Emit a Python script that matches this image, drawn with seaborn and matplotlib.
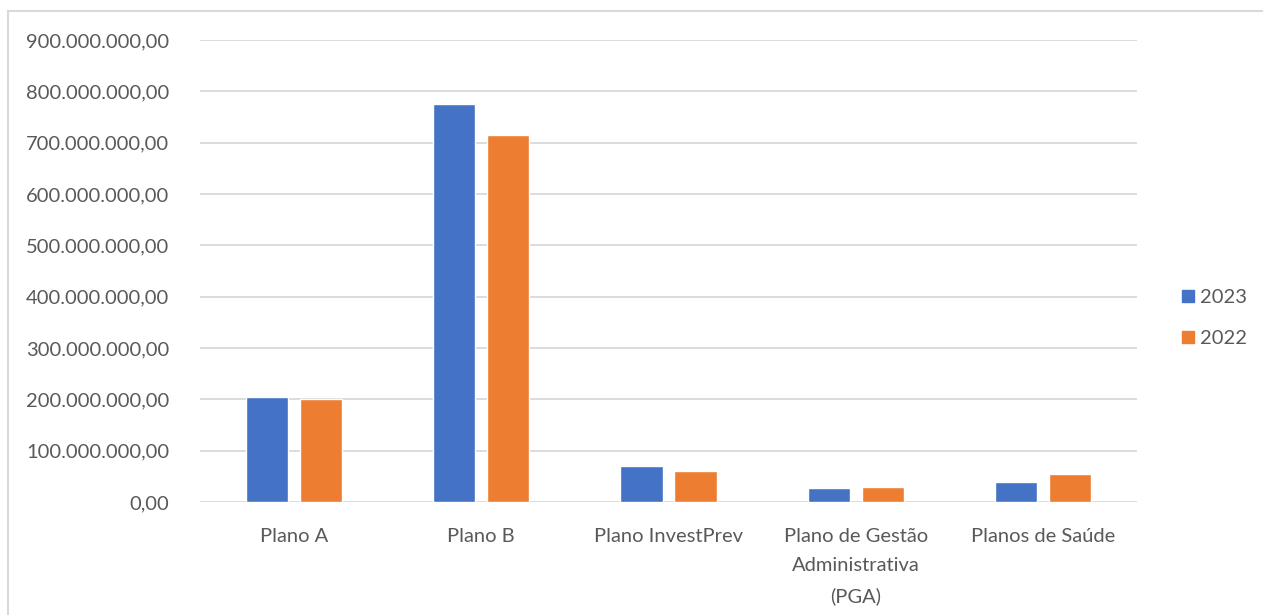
import numpy as np
import pandas as pd
import matplotlib
matplotlib.use('Agg')
import matplotlib.pyplot as plt
import seaborn as sns
from matplotlib.lines import Line2D

categories = ['Plano A', 'Plano B', 'Plano InvestPrev',
              'Plano de Gestão\nAdministrativa\n(PGA)', 'Planos de Saúde']
years = ['2023', '2022']
values_2023 = [204e6, 775e6, 70e6, 27e6, 38e6]
values_2022 = [200e6, 715e6, 60e6, 30e6, 55e6]
yticks = np.arange(0, 900e6 + 1, 100e6)
colors = ['#4472C4', '#ED7D31']

df = pd.DataFrame({
    'Plano': categories * 2,
    'Ano': ['2023'] * len(categories) + ['2022'] * len(categories),
    'Valor': values_2023 + values_2022,
})

sns.set_style('white')
plt.rcParams['font.family'] = ['Lato', 'DejaVu Sans']

fig = plt.figure(figsize=(12.63, 6.15), dpi=100)
ax = fig.add_axes([200 / 1263, 1 - 502 / 615, 937 / 1263, 462 / 615])

sns.barplot(data=df, x='Plano', y='Valor', hue='Ano', hue_order=years,
            palette=colors, width=0.576, gap=0.22, ax=ax, legend=False,
            saturation=1)

ax.set_xlim(-0.5, 4.5)
ax.set_ylim(0, 900e6)
ax.set_yticks(yticks)


def fmt_br(v):
    s = f'{v:,.2f}'
    return s.replace(',', 'X').replace('.', ',').replace('X', '.')


ax.set_yticklabels([fmt_br(v) for v in yticks])
ax.set_xticks(range(len(categories)))
ax.set_xticklabels(categories, linespacing=1.85, va='top')
ax.set_xlabel('')
ax.set_ylabel('')
ax.grid(axis='y', color='#d9d9d9', linewidth=1.3)
ax.set_axisbelow(True)
for s in ax.spines.values():
    s.set_visible(False)
ax.tick_params(axis='y', length=0, pad=22, labelsize=14.5, labelcolor='#595959')
ax.tick_params(axis='x', length=0, pad=19, labelsize=14.5, labelcolor='#595959')

handles = [Line2D([0], [0], marker='s', linestyle='', markersize=9,
                  markerfacecolor=c, markeredgecolor=c) for c in colors]
fig.legend(handles, years, loc='center left',
           bbox_to_anchor=(1160 / 1263, 1 - 318 / 615), frameon=False,
           fontsize=14.5, labelcolor='#595959', handletextpad=0.1,
           labelspacing=1.15, handlelength=1.0)

# chart frame (top and left edges visible)
fig.add_artist(Line2D([8 / 1263, 1], [1 - 11 / 615, 1 - 11 / 615],
                      color='#d9d9d9', linewidth=1.5))
fig.add_artist(Line2D([8 / 1263, 8 / 1263], [0, 1 - 11 / 615],
                      color='#d9d9d9', linewidth=1.5))

fig.savefig('out.png', dpi=100)
